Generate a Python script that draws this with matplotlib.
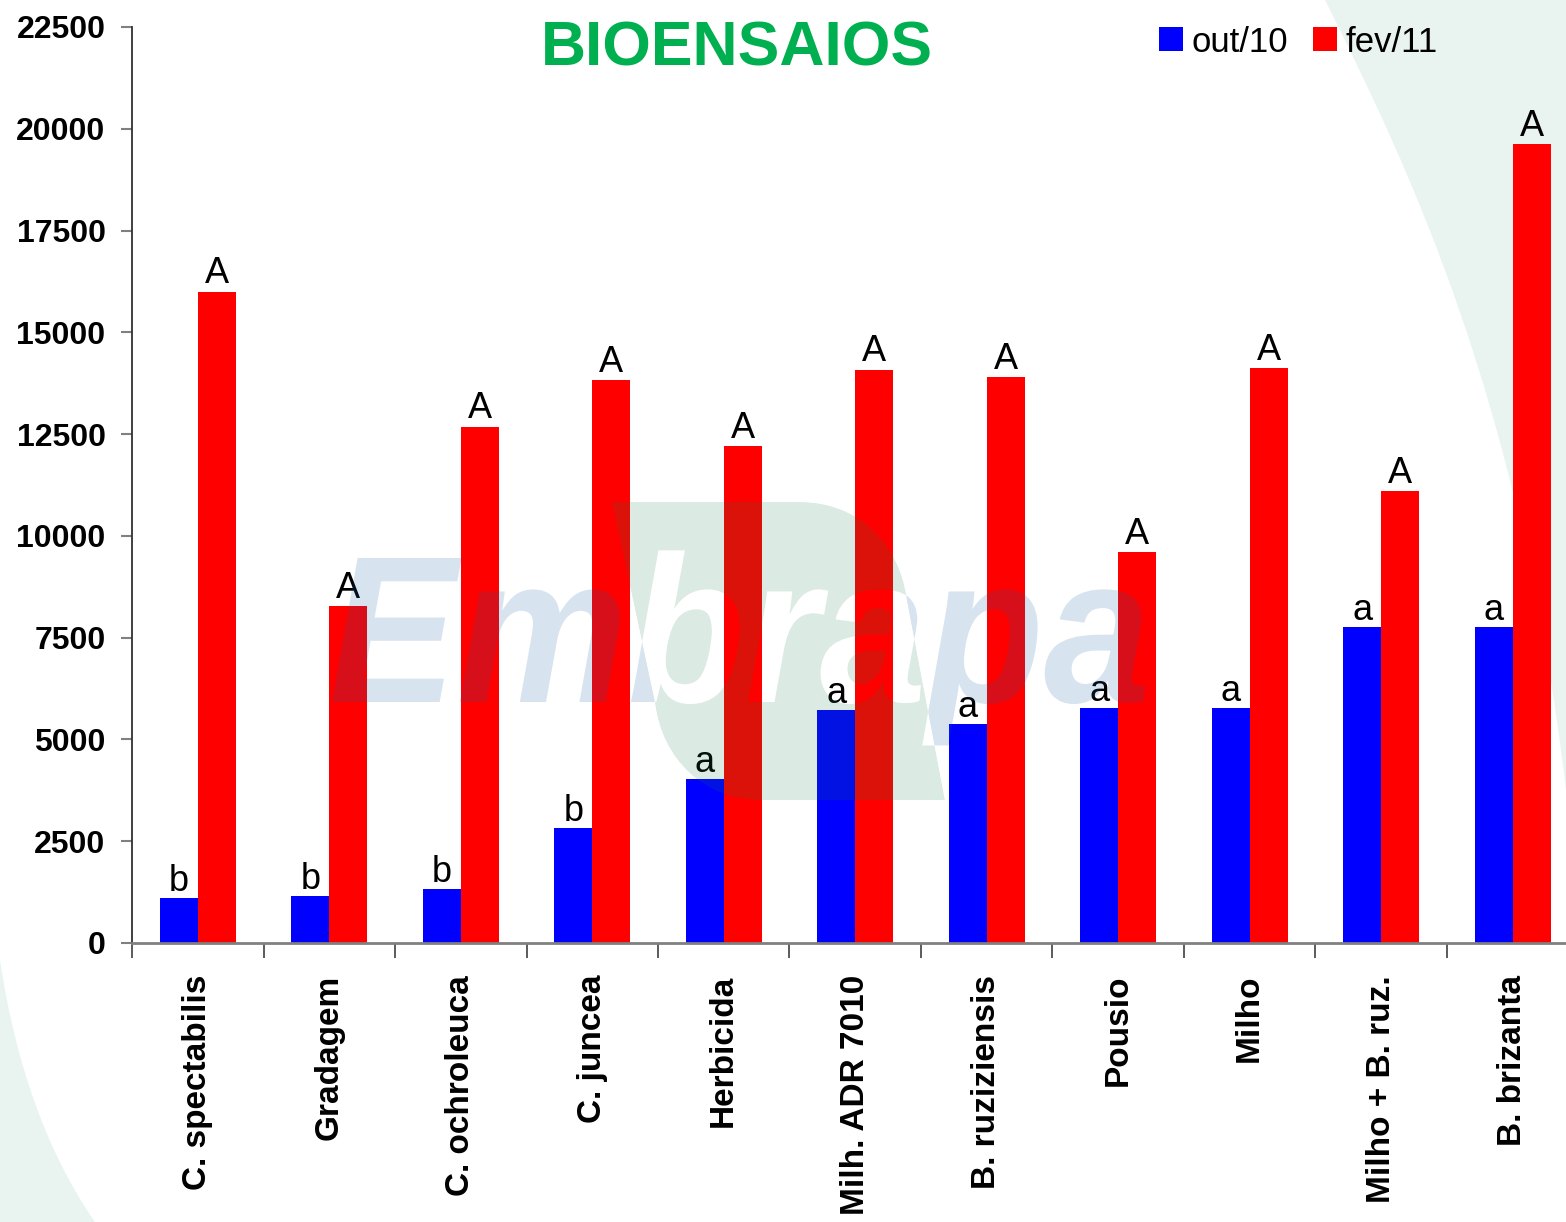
import numpy as np
import matplotlib
matplotlib.use("Agg")
import matplotlib.pyplot as plt
from matplotlib.patches import PathPatch
from matplotlib.path import Path
from matplotlib.textpath import TextPath
from matplotlib.font_manager import FontProperties
from matplotlib.transforms import Affine2D

plt.rcParams['font.family'] = ['Liberation Sans', 'DejaVu Sans']

# ---------------- data ----------------
categories = ["C. spectabilis", "Gradagem", "C. ochroleuca", "C. juncea", "Herbicida",
              "Milh. ADR 7010", "B. ruziziensis", "Pousio", "Milho", "Milho + B. ruz.",
              "B. brizanta"]
out10 = [1100, 1160, 1330, 2830, 4030, 5720, 5380, 5770, 5770, 7760, 7760]
fev11 = [16000, 8280, 12680, 13830, 12210, 14080, 13900, 9600, 14120, 11100, 19630]
out10_letters = ["b", "b", "b", "b", "a", "a", "a", "a", "a", "a", "a"]
fev11_letters = ["A"] * 11
series_names = ["out/10", "fev/11"]
yticks = [0, 2500, 5000, 7500, 10000, 12500, 15000, 17500, 20000, 22500]
title = "BIOENSAIOS"

W, H = 1566, 1222
fig = plt.figure(figsize=(W / 100, H / 100), dpi=100)
fig.patch.set_facecolor('white')

# transform: figure pixels with y measured from the top
pix = Affine2D().scale(1.0 / W, -1.0 / H).translate(0, 1) + fig.transFigure

mint = '#E9F4F0'
C4, L2, MV, CL = Path.CURVE4, Path.LINETO, Path.MOVETO, Path.CLOSEPOLY
tr = Path([(1325, 0), (1410, 170), (1520, 400), (1566, 790), (1566, 0), (1325, 0)],
          [MV, C4, C4, C4, L2, CL])
bl = Path([(0, 960), (15, 1060), (45, 1150), (95, 1222), (0, 1222), (0, 960)],
          [MV, C4, C4, C4, L2, CL])
for p in (tr, bl):
    fig.add_artist(PathPatch(p, transform=pix, facecolor=mint, edgecolor='none',
                             zorder=-5))

# ---------------- axes ----------------
ax = fig.add_axes([132 / W, (H - 943) / H, 1446.5 / W, (943 - 27) / H])
ax.set_facecolor('none')
x = np.arange(len(categories))
w = 0.289
ax.bar(x - w / 2, out10, w, color='#0000FF', label=series_names[0], zorder=2)
ax.bar(x + w / 2, fev11, w, color='#FF0000', label=series_names[1], zorder=2)

for i in range(len(categories)):
    ax.annotate(out10_letters[i], (x[i] - w / 2, out10[i]), xytext=(0, 5),
                textcoords='offset points', ha='center', va='baseline', fontsize=26,
                zorder=4)
    ax.annotate(fev11_letters[i], (x[i] + w / 2, fev11[i]), xytext=(0, 6),
                textcoords='offset points', ha='center', va='baseline', fontsize=26,
                zorder=4, annotation_clip=False)

ax.set_xlim(-0.5, len(categories) - 0.5)
ax.set_ylim(0, 22500)
ax.set_yticks(yticks)
ax.set_yticklabels([str(t) for t in yticks], fontsize=23, fontweight='bold')
ax.tick_params(axis='y', length=8, width=1.5, color='#808080', pad=11)

ax.set_xticks(x)
ax.set_xticklabels(categories, rotation=90, fontsize=24, fontweight='bold')
ax.tick_params(axis='x', which='major', length=0, pad=23)
ax.set_xticks(np.arange(-0.5, len(categories), 1), minor=True)
ax.tick_params(axis='x', which='minor', length=11, width=1.2, color='#404040')

for s in ('top', 'right'):
    ax.spines[s].set_visible(False)
ax.spines['left'].set_color('#303030')
ax.spines['left'].set_linewidth(1.3)
ax.spines['bottom'].set_color('#808080')
ax.spines['bottom'].set_linewidth(2)

ax.legend(loc='center left', bbox_to_anchor=(1159 / W, 1 - 42 / H),
          bbox_transform=fig.transFigure, frameon=False, ncol=2,
          handlelength=0.69, handleheight=0.69, handletextpad=0.26,
          columnspacing=0.69, borderpad=0, borderaxespad=0, fontsize=25)

# title
fig.text(737 / W, 1 - 49 / H, title, ha='center', va='center', fontsize=45,
         fontweight='bold', color='#00B050')

# ---------------- watermark ----------------
prop = FontProperties(family='Liberation Sans', weight='bold', style='italic')
tp = TextPath((0, 0), 'Embrapa', size=100, prop=prop)
capE = TextPath((0, 0), 'E', size=100, prop=prop).get_extents()
ext = tp.get_extents()
sx = 813.0 / ext.width
sy = 144.0 / capE.y1
text_tr = Affine2D().translate(-ext.x0, 0).scale(sx, -sy).translate(332, 702)
tpath = text_tr.transform_path(tp)

leaf = Path([(612, 502), (800, 502), (860, 502), (900, 545), (907, 600), (945, 800),
             (760, 800), (705, 800), (662, 760), (655, 703), (612, 502), (612, 502)],
            [MV, L2, C4, C4, C4, L2, L2, C4, C4, C4, L2, CL])
leaf_poly = leaf.to_polygons()[0]


def signed_area(p):
    p = np.asarray(p)
    return 0.5 * np.sum(p[:-1, 0] * p[1:, 1] - p[1:, 0] * p[:-1, 1])


# orientation of the text outer contours (largest polygon of the text)
tpolys = tpath.to_polygons()
big = max(tpolys, key=lambda q: abs(signed_area(q)))
s_text = np.sign(signed_area(big))
lp = leaf_poly if np.sign(signed_area(leaf_poly)) != s_text else leaf_poly[::-1]
# leaf with the letters cut out (non-zero winding)
hole_verts = np.concatenate([lp, tpath.vertices])
hole_codes = np.concatenate([[MV] + [L2] * (len(lp) - 2) + [CL], tpath.codes])
leaf_holed = Path(hole_verts, hole_codes)
leaf_patch = PathPatch(leaf_holed, transform=pix, facecolor=(0.06, 0.48, 0.27),
                       edgecolor='none', alpha=0.15, zorder=3)
leaf_patch.set_clip_path(leaf, pix)
fig.add_artist(leaf_patch)

# letters outside the leaf in a pale blue
rect = np.array([(-10, -10), (W + 10, -10), (W + 10, H + 10), (-10, H + 10), (-10, -10)])
if np.sign(signed_area(rect)) == np.sign(signed_area(leaf_poly)):
    lp2 = leaf_poly[::-1]
else:
    lp2 = leaf_poly
outside = Path(np.concatenate([rect, lp2]),
               [MV, L2, L2, L2, CL] + [MV] + [L2] * (len(lp2) - 2) + [CL])
text_patch = PathPatch(tpath, transform=pix, facecolor=(0.07, 0.36, 0.62),
                       edgecolor='none', alpha=0.165, zorder=3)
text_patch.set_clip_path(outside, pix)
fig.add_artist(text_patch)

fig.savefig('out.png', dpi=100)
